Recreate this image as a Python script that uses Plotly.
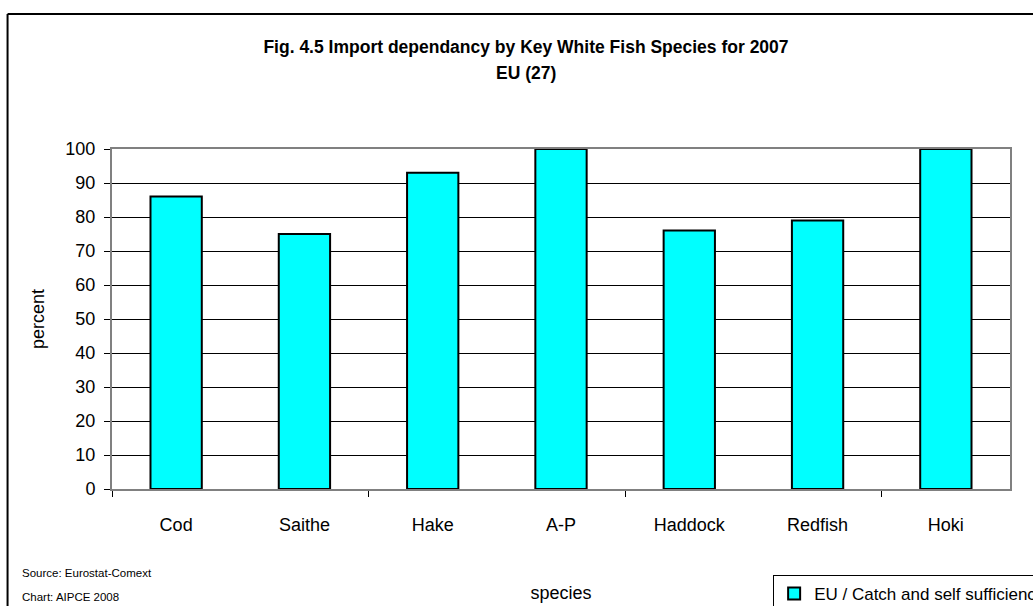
import plotly.graph_objects as go

species = ["Cod", "Saithe", "Hake", "A-P", "Haddock", "Redfish", "Hoki"]
percent = [86, 75, 93, 100, 76, 79, 100]
y_ticks = [0, 10, 20, 30, 40, 50, 60, 70, 80, 90, 100]
series_name = "EU / Catch and self sufficiency"

W, H = 1033, 606
L, R, T, B = 111.5, 23, 149, 117
pw, ph = W - L - R, H - T - B

def px(x):
    return (x - L) / pw

def py(y):
    return (H - B - y) / ph

xpos = list(range(len(species)))

fig = go.Figure()
fig.add_trace(go.Bar(
    x=xpos, y=percent, name=series_name, width=0.4,
    marker=dict(color="#00FFFF", line=dict(color="black", width=2)),
    showlegend=True,
))

font = "Liberation Sans, Arial, sans-serif"
fig.update_layout(
    width=W, height=H,
    margin=dict(l=L, r=R, t=T, b=B, autoexpand=False),
    paper_bgcolor="white", plot_bgcolor="white",
    font=dict(family=font, size=18, color="black"),
    title=dict(
        text="<b>Fig. 4.5 Import dependancy by Key White Fish Species for 2007</b>",
        x=526 / W, xref="container", xanchor="center",
        y=1 - 47 / H, yref="container", yanchor="middle",
        font=dict(size=17.5, family=font),
    ),
    xaxis=dict(
        range=[-0.5, len(species) - 0.5],
        tickvals=xpos, ticktext=species, ticks="", ticklen=0,
        ticklabelstandoff=18,
        minor=dict(tick0=-0.5, dtick=2, ticks="outside", ticklen=6, tickcolor="black", showgrid=False),
        showline=True, linecolor="#808080", linewidth=2, mirror=True,
        showgrid=False, zeroline=False,
        title=dict(text="species", standoff=53, font=dict(size=18)),
        tickfont=dict(size=18),
    ),
    yaxis=dict(
        range=[0, 100], tickvals=y_ticks,
        ticks="outside", ticklen=6, tickcolor="black",
        ticklabelstandoff=5,
        showline=True, linecolor="#808080", linewidth=2, mirror=True,
        showgrid=True, gridcolor="black", gridwidth=1, zeroline=False,
        title=dict(text="percent", standoff=16, font=dict(size=18)),
        tickfont=dict(size=18),
    ),
    legend=dict(
        x=px(773), y=py(575), xanchor="left", yanchor="top",
        bordercolor="black", borderwidth=1, bgcolor="white",
        font=dict(size=17), itemwidth=30,
    ),
    bargap=0.6,
)

fig.add_annotation(text="<b>EU (27)</b>", xref="paper", yref="paper",
                   x=px(526), y=py(73), xanchor="center", yanchor="middle",
                   showarrow=False, font=dict(size=17.5))

# outer chart border (top and left)
fig.add_shape(type="line", xref="paper", yref="paper",
              x0=px(7), x1=px(1040), y0=py(14), y1=py(14),
              line=dict(color="black", width=2))
fig.add_shape(type="line", xref="paper", yref="paper",
              x0=px(7), x1=px(7), y0=py(14), y1=py(620),
              line=dict(color="black", width=2))

fig.add_annotation(text="Source: Eurostat-Comext", xref="paper", yref="paper",
                   x=px(19), y=py(573), xanchor="left", yanchor="middle",
                   showarrow=False, font=dict(size=11.5))
fig.add_annotation(text="Chart: AIPCE 2008", xref="paper", yref="paper",
                   x=px(19), y=py(597), xanchor="left", yanchor="middle",
                   showarrow=False, font=dict(size=11.5))

fig.write_html("out.html")
